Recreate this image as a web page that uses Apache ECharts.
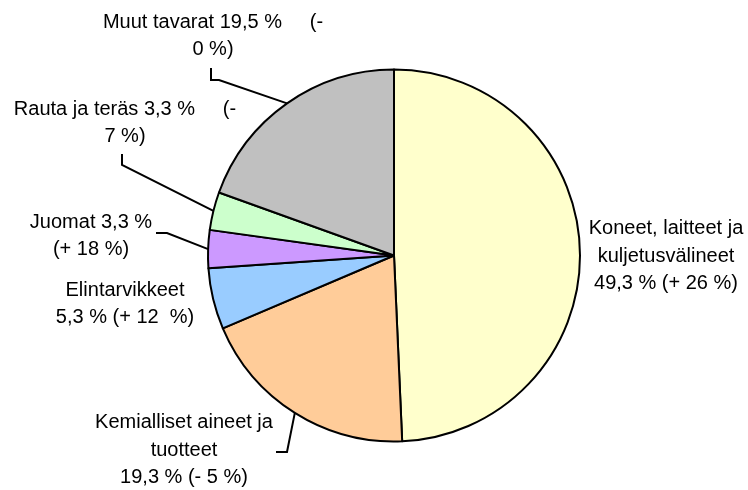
<!DOCTYPE html>
<html>
<head>
<meta charset="utf-8">
<script src="https://cdn.jsdelivr.net/npm/echarts@6/dist/echarts.min.js"></script>
<style>
  html, body { margin: 0; padding: 0; background: #fff; }
  #main { width: 748px; height: 490px; }
</style>
</head>
<body>
<div id="main"></div>
<script>
// slice data, clockwise from 12 o'clock
var names = ['Koneet, laitteet ja kuljetusvälineet', 'Kemialliset aineet ja tuotteet',
             'Elintarvikkeet', 'Juomat', 'Rauta ja teräs', 'Muut tavarat'];
var shares = [49.3, 19.3, 5.3, 3.3, 3.3, 19.5];
var labels = [
    'Koneet, laitteet ja\nkuljetusvälineet\n49,3 % (+ 26 %)',
    'Kemialliset aineet ja\ntuotteet\n19,3 % (- 5 %)',
    'Elintarvikkeet\n5,3 % (+ 12  %)',
    'Juomat 3,3 %\n(+ 18 %)',
    'Rauta ja teräs 3,3 %     (-\n7 %)',
    'Muut tavarat 19,5 %     (-\n0 %)'
];
var colors = ['#FFFFCC', '#FFCC99', '#99CCFF', '#CC99FF', '#CCFFCC', '#C0C0C0'];

// where each label sits (center x, middle y) and the bends of its leader line
var labelPos = [[666, 256], [184, 450], [125, 304], [91, 236], [125, 123], [213, 36]];
var leaders = [
    null,
    [[276, 452], [287, 452]],
    null,
    [[156, 233], [167, 233]],
    [[122, 154], [122, 165]],
    [[211, 68], [211, 80], [219, 80]]
];

var chart = echarts.init(document.getElementById('main'));
var option = {
    animation: false,
    series: [{
        type: 'pie',
        center: [394, 255.5],
        radius: 186,
        startAngle: 90,
        clockwise: true,
        avoidLabelOverlap: false,
        emphasis: { disabled: true },
        itemStyle: { borderColor: '#000', borderWidth: 2 },
        label: {
            show: true,
            position: 'outside',
            color: '#000',
            fontFamily: 'Liberation Sans, Arial, sans-serif',
            fontSize: 20,
            lineHeight: 27.5,
            align: 'center',
            formatter: function (p) { return labels[p.dataIndex]; }
        },
        labelLine: {
            show: true,
            smooth: false,
            lineStyle: { color: '#000', width: 2 }
        },
        labelLayout: function (params) {
            var i = params.dataIndex;
            var out = {
                x: labelPos[i][0],
                y: labelPos[i][1],
                align: 'center',
                verticalAlign: 'middle'
            };
            var edge = params.labelLinePoints && params.labelLinePoints[0];
            if (leaders[i] && edge) {
                out.labelLinePoints = leaders[i].concat([edge]);
            }
            return out;
        },
        data: names.map(function (n, i) {
            return {
                name: n,
                value: shares[i],
                itemStyle: { color: colors[i] },
                labelLine: { show: !!leaders[i] }
            };
        })
    }]
};
chart.setOption(option);
</script>
</body>
</html>
